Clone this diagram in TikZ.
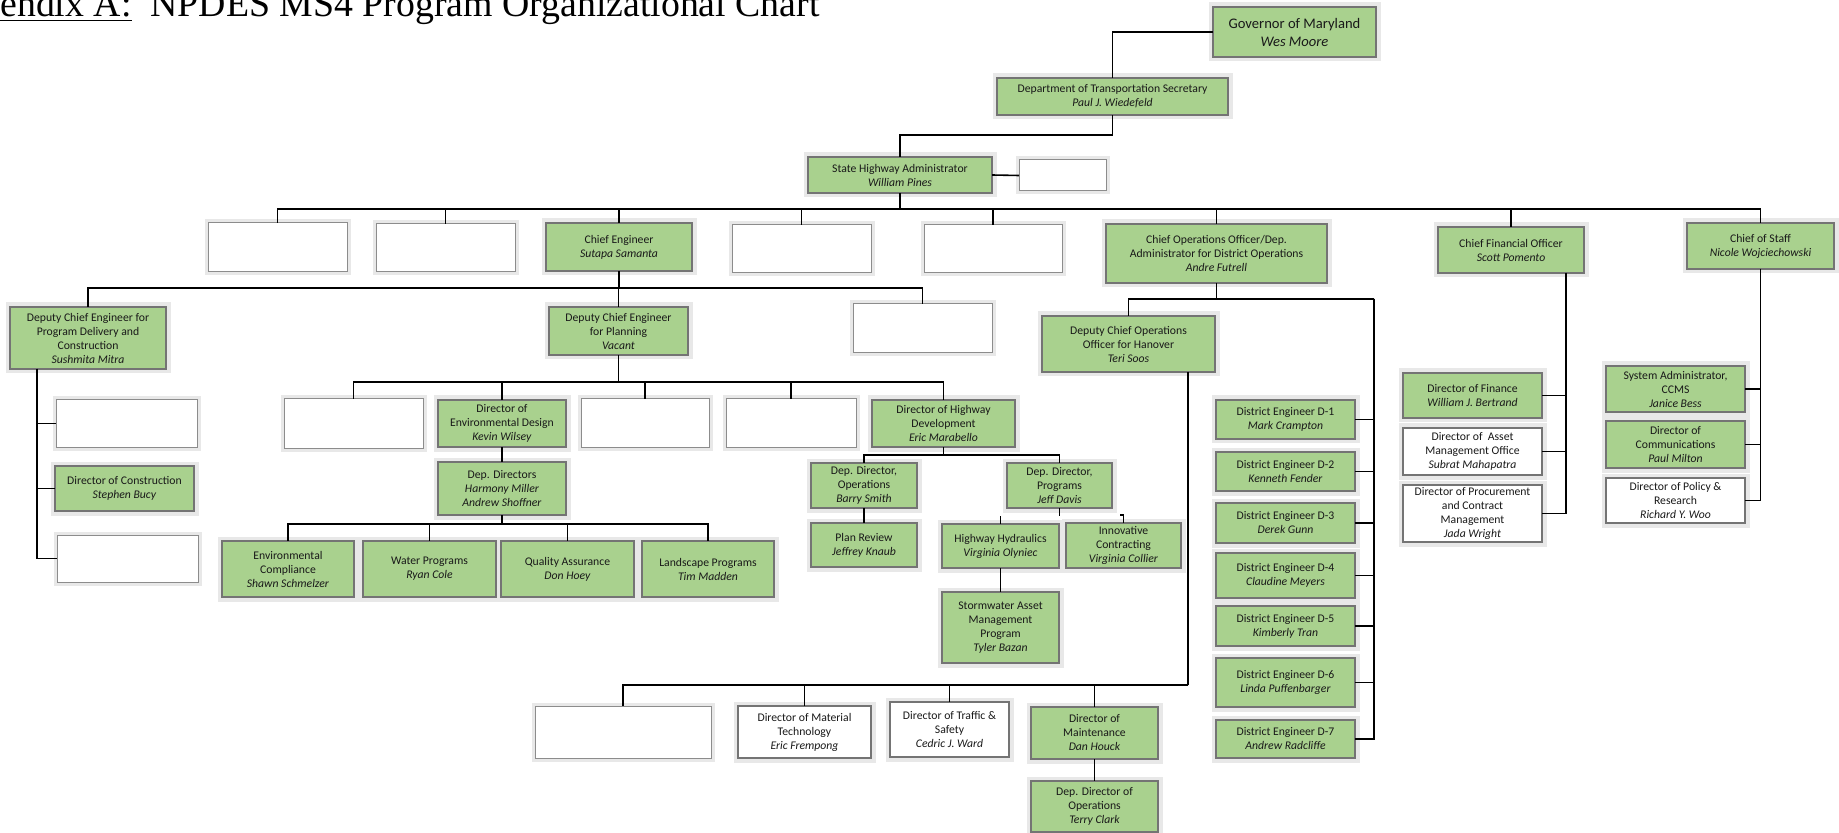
\documentclass[tikz,border=0pt]{standalone}
\usepackage{fontspec}
\setmainfont{Carlito}
\newfontfamily\titlefont{Liberation Serif}
\definecolor{boxgreen}{HTML}{A9D18E}
\definecolor{boxedge}{HTML}{747474}
\definecolor{glowgray}{HTML}{E8E8E8}
\tikzset{
  orgbase/.style={rectangle, align=center, inner sep=0.5pt, outer sep=0pt,
    font=\fontsize{5.85}{7}\selectfont, text=black!90},
  gbox/.style={orgbase, fill=boxgreen, draw=boxedge, line width=1.3pt,
    preaction={draw=glowgray, line width=4.5pt}},
  wbox/.style={orgbase, fill=white, draw=boxedge, line width=1.3pt,
    preaction={draw=glowgray, line width=4.5pt}},
  ebox/.style={orgbase, fill=white, draw=black!45, line width=0.5pt,
    preaction={draw=glowgray, line width=3.5pt}},
  govbox/.style={gbox, font=\fontsize{7.3}{9}\selectfont},
  conn/.style={draw=black, line width=0.8pt},
}
\newcommand\BX[7]{\node[#1, minimum width={(#5-#3)*0.5pt}, minimum height={(#6-#4)*0.5pt}] (#2) at ({(#3+#5)/2},{(#4+#6)/2}) {#7};}
\begin{document}
\begin{tikzpicture}[x=0.5pt,y=-0.5pt]
\useasboundingbox (0,0) rectangle (1839,833);
\node[anchor=base west, inner sep=0, font=\titlefont\fontsize{18.9}{22}\selectfont] (title) at (0,17) {\underline{endix A:}\ \ NPDES MS4 Program Organizational Chart};

\BX{govbox}{gov}{1213}{7}{1376}{57}{Governor of Maryland\\\textit{Wes Moore}}
\BX{gbox}{dot}{997}{78}{1228}{115}{Department of Transportation Secretary\\\textit{Paul J. Wiedefeld}}
\BX{gbox}{sha}{808}{157}{992}{193}{State Highway Administrator\\\textit{William Pines}}
\BX{ebox}{side}{1019}{160}{1106}{191}{}
\BX{ebox}{b1}{208}{223}{347}{272}{}
\BX{ebox}{b2}{376}{224}{515}{272}{}
\BX{gbox}{ce}{546}{223}{692}{271}{Chief Engineer\\\textit{Sutapa Samanta}}
\BX{ebox}{b3}{732}{225}{871}{273}{}
\BX{ebox}{b4}{924}{225}{1062}{273}{}
\BX{gbox}{coo}{1106}{224}{1327}{283}{Chief Operations Officer/Dep.\\Administrator for District Operations\\\textit{Andre Futrell}}
\BX{gbox}{cfo}{1438}{227}{1584}{273}{Chief Financial Officer\\\textit{Scott Pomento}}
\BX{gbox}{cos}{1687}{223}{1834}{269}{Chief of Staff\\\textit{Nicole Wojciechowski}}
\BX{gbox}{pdc}{10}{307}{166}{369}{Deputy Chief Engineer for\\Program Delivery and\\Construction\\\textit{Sushmita Mitra}}
\BX{gbox}{plan}{549}{307}{688}{355}{Deputy Chief Engineer\\for Planning\\\textit{Vacant}}
\BX{ebox}{b5}{853}{304}{992}{353}{}
\BX{gbox}{han}{1042}{316}{1215}{372}{Deputy Chief Operations\\Officer for Hanover\\\textit{Teri Soos}}
\BX{ebox}{b6}{56}{400}{197}{447}{}
\BX{gbox}{cons}{55}{466}{194}{511}{Director of Construction\\\textit{Stephen Bucy}}
\BX{ebox}{b7}{57}{535}{198}{582}{}
\BX{ebox}{b8}{284}{399}{423}{448}{}
\BX{gbox}{envd}{438}{400}{566}{447}{Director of\\Environmental Design\\\textit{Kevin Wilsey}}
\BX{ebox}{b9}{581}{399}{709}{447}{}
\BX{ebox}{b10}{726}{399}{856}{447}{}
\BX{gbox}{hd}{872}{400}{1015}{447}{Director of Highway\\Development\\\textit{Eric Marabello}}
\BX{gbox}{depd}{438}{462}{566}{515}{Dep. Directors\\\textit{Harmony Miller}\\\textit{Andrew Shoffner}}
\BX{gbox}{ec}{222}{541}{354}{597}{Environmental\\Compliance\\\textit{Shawn Schmelzer}}
\BX{gbox}{wp}{363}{541}{496}{597}{Water Programs\\\textit{Ryan Cole}}
\BX{gbox}{qa}{501}{541}{634}{597}{Quality Assurance\\\textit{Don Hoey}}
\BX{gbox}{lp}{642}{541}{774}{597}{Landscape Programs\\\textit{Tim Madden}}
\BX{gbox}{ops}{811}{463}{917}{508}{Dep. Director,\\Operations\\\textit{Barry Smith}}
\BX{gbox}{prog}{1007}{463}{1112}{508}{Dep. Director,\\Programs\\\textit{Jeff Davis}}
\BX{gbox}{pr}{811}{523}{917}{567}{Plan Review\\\textit{Jeffrey Knaub}}
\BX{gbox}{hh}{942}{524}{1059}{568}{Highway Hydraulics\\\textit{Virginia Olyniec}}
\BX{gbox}{ic}{1066}{523}{1181}{568}{Innovative\\Contracting\\\textit{Virginia Collier}}
\BX{gbox}{sw}{942}{592}{1059}{663}{Stormwater Asset\\Management\\Program\\\textit{Tyler Bazan}}
\BX{gbox}{d1}{1216}{400}{1355}{439}{District Engineer D-1\\\textit{Mark Crampton}}
\BX{gbox}{d2}{1216}{452}{1355}{491}{District Engineer D-2\\\textit{Kenneth Fender}}
\BX{gbox}{d3}{1216}{503}{1355}{543}{District Engineer D-3\\\textit{Derek Gunn}}
\BX{gbox}{d4}{1216}{553}{1355}{598}{District Engineer D-4\\\textit{Claudine Meyers}}
\BX{gbox}{d5}{1216}{606}{1355}{646}{District Engineer D-5\\\textit{Kimberly Tran}}
\BX{gbox}{d6}{1216}{658}{1355}{707}{District Engineer D-6\\\textit{Linda Puffenbarger}}
\BX{gbox}{d7}{1216}{720}{1355}{758}{District Engineer D-7\\\textit{Andrew Radcliffe}}
\BX{gbox}{fin}{1403}{373}{1542}{418}{Director of Finance\\\textit{William J. Bertrand}}
\BX{wbox}{ast}{1403}{428}{1542}{475}{Director of\ \ Asset\\Management Office\\\textit{Subrat Mahapatra}}
\BX{wbox}{proc}{1403}{485}{1542}{542}{Director of Procurement\\and Contract\\Management\\\textit{Jada Wright}}
\BX{gbox}{sys}{1606}{366}{1745}{412}{System Administrator,\\CCMS\\\textit{Janice Bess}}
\BX{gbox}{com}{1606}{421}{1745}{468}{Director of\\Communications\\\textit{Paul Milton}}
\BX{wbox}{pol}{1606}{478}{1745}{523}{Director of Policy \&\\Research\\\textit{Richard Y. Woo}}
\BX{ebox}{b11}{535}{706}{711}{758}{}
\BX{wbox}{mt}{738}{706}{871}{758}{Director of Material\\Technology\\\textit{Eric Frempong}}
\BX{wbox}{tr}{890}{702}{1009}{757}{Director of Traffic \&\\Safety\\\textit{Cedric J. Ward}}
\BX{gbox}{mnt}{1031}{707}{1158}{759}{Director of\\Maintenance\\\textit{Dan Houck}}
\BX{gbox}{ddo}{1031}{781}{1158}{832}{Dep. Director of\\Operations\\\textit{Terry Clark}}

% connectors
\draw[conn] (gov.west) -| (dot.north);
\draw[conn] (dot.south) -- ++(0,20) -| (sha.north);
\draw[conn] (sha.east) -- (side.west);
\draw[conn, line width=1.3pt] (sha.south) -- ++(0,16) coordinate (busA);
\foreach \n in {b1,b2,ce,b3,b4,coo,cfo,cos} \draw[conn] (busA) -| (\n.north);
\draw[conn] (ce.south) -- ++(0,17) coordinate (busB);
\foreach \n in {pdc,plan,b5} \draw[conn] (busB) -| (\n.north);
\foreach \n in {b6,cons,b7} \draw[conn] ([xshift=-25.5pt]pdc.south) |- (\n.west);
\draw[conn] (plan.south) -- ++(0,27) coordinate (busC);
\foreach \n in {b8,envd,b9,b10,hd} \draw[conn] (busC) -| (\n.north);
\draw[conn] (envd.south) -- (depd.north);
\draw[conn] (depd.south) -- ++(0,9) coordinate (busD);
\foreach \n in {ec,wp,qa,lp} \draw[conn] (busD) -| (\n.north);
\draw[conn] (hd.south) -- ++(0,8) coordinate (busE);
\foreach \n in {ops,prog} \draw[conn] (busE) -| (\n.north);
\draw[conn] (ops.south) -- (pr.north);
\draw[conn] (prog.south) -- ++(0,8);
\draw[conn] (hh.north) -- ++(0,-8);
\draw[conn] (ic.north) -- ++(0,-8) -- ++(-4,0);
\draw[conn] (hh.south) -- (sw.north);
\draw[conn] (coo.south) -- ++(0,16) coordinate (busF);
\draw[conn] (busF) -| (han.north);
\coordinate (cooR) at (1374,299);
\draw[conn] (busF) -- (cooR);
\foreach \n in {d1,d2,d3,d4,d5,d6,d7} \draw[conn] (cooR) |- (\n.east);
\coordinate (busG) at (1188,685);
\draw[conn] ([xshift=29.75pt]han.south) -- (busG);
\foreach \n in {b11,mt,tr,mnt} \draw[conn] (busG) -| (\n.north);
\draw[conn] (mnt.south) -- (ddo.north);
\foreach \n in {fin,ast,proc} \draw[conn] ([xshift=27.5pt]cfo.south) |- (\n.east);
\foreach \n in {sys,com,pol} \draw[conn] (cos.south) |- (\n.east);
\end{tikzpicture}
\end{document}
